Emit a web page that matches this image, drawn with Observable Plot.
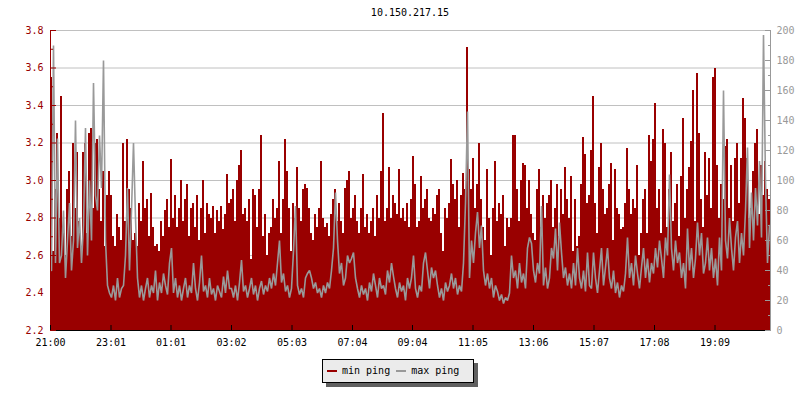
<!DOCTYPE html>
<html>
<head>
<meta charset="utf-8">
<script src="https://cdn.jsdelivr.net/npm/d3@7"></script>
<script src="https://cdn.jsdelivr.net/npm/@observablehq/plot@0.6"></script>
<style>
  body { margin: 0; background: #fff; }
  #wrap { position: relative; width: 800px; height: 400px; font-family: "DejaVu Sans Mono", monospace; font-size: 10px; color: #000; }
  #title { position: absolute; left: 0; top: 7px; width: 820px; text-align: center; line-height: 12px; }
  #chart { position: absolute; left: 0; top: 0; }
  #legend { position: absolute; left: 322px; top: 359px; width: 152px; height: 24px; box-sizing: border-box;
            border: 1px solid #000; background: #ebebeb; box-shadow: 4px 4px 0 #606060;
            display: flex; align-items: center; padding-left: 4px; }
  .sw { display: inline-block; width: 10px; height: 2px; margin-right: 5px; }
  .lab { margin-right: 6px; line-height: 12px; }
</style>
</head>
<body>
<div id="wrap">
  <div id="chart"></div>
  <div id="title"></div>
  <div id="legend"></div>
</div>
<script>
const title = "10.150.217.15";
const seriesNames = ["min ping", "max ping"];
const seriesColors = ["#990000", "#999999"];
const startTime = "21:00";
const spanMinutes = 1440;
const sampleMinutes = 4;
const timeLabels = ["21:00","23:01","01:01","03:02","05:03","07:04","09:04","11:05","13:06","15:07","17:08","19:09"];
const leftTicks = [2.2,2.4,2.6,2.8,3.0,3.2,3.4,3.6,3.8];
const rightTicks = [0,20,40,60,80,100,120,140,160,180,200];

// min ping (left axis), one value per 4 minutes
const minPing = [
3.55,2.62,2.95,3.25,2.8,3.45,2.75,2.6,2.95,3.05,2.7,3.2,2.85,3.15,2.78,2.65,3.15,3.2,2.72,3.25,3.28,2.85,3.2,3.22,2.95,2.78,3.05,2.65,2.92,3.05,
2.92,2.7,2.65,2.82,2.75,2.68,3.2,2.78,3.22,2.95,2.85,2.68,2.72,2.65,2.88,2.78,3.1,2.85,2.9,2.7,2.93,2.75,2.65,2.66,2.62,2.78,2.7,2.84,2.9,2.75,
3.11,2.8,2.92,2.75,2.85,3.0,2.78,2.9,2.98,2.7,2.85,2.88,2.75,2.92,2.68,2.85,3.0,2.72,2.88,2.82,2.8,2.86,2.72,2.84,2.78,2.86,2.74,2.82,3.03,2.88,
2.9,2.95,2.78,3.0,3.08,3.16,2.82,2.85,2.78,2.9,2.58,2.95,2.92,2.75,2.95,3.24,2.7,2.82,2.6,2.72,2.75,2.9,2.8,2.85,3.1,2.72,2.9,3.22,3.05,2.85,
2.62,2.88,2.8,3.07,2.85,2.78,2.95,2.98,2.96,2.85,2.72,2.68,2.82,2.75,2.85,3.1,2.8,2.75,2.77,2.7,2.82,2.9,2.95,2.78,2.88,2.78,2.72,2.96,3.0,3.05,
2.8,2.85,2.92,2.78,2.72,2.85,3.03,2.75,2.82,2.72,2.78,2.85,2.7,2.92,2.8,3.05,3.36,2.78,2.85,3.07,2.8,2.92,2.88,2.82,3.06,2.8,2.85,2.78,2.88,2.75,
2.9,3.13,2.98,2.75,2.78,3.02,2.85,2.9,2.95,2.8,2.78,2.85,2.82,2.92,2.95,2.72,2.62,2.85,2.8,2.88,3.11,2.98,2.9,3.0,2.75,2.92,3.04,2.95,3.71,3.06,
2.95,3.12,2.85,2.98,3.2,2.9,2.75,2.68,3.06,2.8,2.6,2.85,3.1,2.78,2.88,2.82,2.92,2.65,2.8,2.75,2.8,3.24,3.24,2.95,2.78,3.0,3.09,3.08,2.85,3.0,
2.82,2.72,2.68,2.95,3.06,2.75,2.92,2.8,2.88,2.92,3.0,2.75,2.85,2.98,2.7,2.95,2.82,3.07,2.9,2.8,3.02,2.62,2.9,2.65,2.7,2.98,3.23,3.14,2.88,2.92,
3.16,3.45,2.88,2.72,3.07,3.2,2.95,2.82,2.85,2.98,3.09,2.68,3.06,2.85,2.82,2.74,2.75,2.88,3.17,2.95,2.82,2.9,2.85,3.08,2.6,2.72,2.9,2.95,2.72,3.24,
3.1,3.22,3.41,2.85,2.95,2.72,3.27,3.2,2.75,2.95,3.15,2.78,2.88,2.98,2.7,3.02,3.33,2.8,2.95,3.07,3.21,3.48,2.78,3.57,3.25,2.9,2.75,3.15,2.92,3.12,2.85,3.55,3.6,3.08,2.8,2.98,
2.9,3.18,3.22,2.85,3.08,2.78,3.12,3.2,2.88,3.12,3.44,3.33,3.12,2.8,2.85,3.05,3.2,3.27,2.82,3.08,2.92,3.1,2.95,2.9
];

// max ping (right axis), one value per 4 minutes
const maxPing = [
40,190,45,128,45,50,80,35,60,85,40,60,140,55,75,45,70,135,50,100,60,165,90,80,130,95,180,60,30,25,
22,30,20,35,22,28,30,50,95,40,80,125,75,35,22,30,20,28,35,22,30,25,40,20,32,25,38,30,24,45,
55,25,35,22,30,20,28,35,22,30,25,45,28,20,32,50,26,30,22,35,24,28,20,30,26,22,36,25,40,28,
28,22,30,20,32,47,26,30,22,28,35,24,30,20,28,33,24,30,26,35,28,38,30,45,60,32,38,26,30,22,
28,53,83,30,24,28,22,35,38,40,35,28,32,25,28,22,30,25,32,28,40,55,92,60,38,45,30,35,50,45,
48,52,35,28,22,30,24,28,20,32,26,38,30,22,35,28,30,24,40,32,45,36,28,22,32,26,30,20,35,28,
35,50,28,22,30,26,45,52,40,28,42,35,40,30,22,28,20,32,26,30,38,28,35,24,30,26,45,85,146,35,
60,45,65,79,55,70,40,30,38,28,35,22,30,26,20,24,18,22,20,25,50,35,40,28,45,32,38,28,55,62,
58,40,32,45,38,83,30,42,28,35,55,48,68,40,72,52,35,42,30,38,28,45,30,55,35,28,40,26,52,30,
28,52,35,25,40,55,30,42,55,35,28,40,25,32,22,30,26,38,62,35,45,30,50,38,28,42,55,35,48,32,
45,38,55,42,60,48,35,62,50,104,55,40,60,45,52,35,45,28,68,40,55,35,48,72,50,65,38,45,62,40,55,35,48,30,62,40,
160,60,48,75,55,40,62,73,45,65,50,80,122,55,92,60,95,70,113,62,197,100,45,70
];

const red = seriesColors[0], gray = seriesColors[1];
const hm = s => { const [h, m] = s.split(":").map(Number); return h * 60 + m; };
const toMin = s => (hm(s) - hm(startTime) + 1440) % 1440;
const tickMinutes = timeLabels.map(toMin);
const labelByMin = new Map(tickMinutes.map((m, i) => [m, timeLabels[i]]));
const yLo = leftTicks[0], yHi = leftTicks[leftTicks.length - 1];
const r2l = d3.scaleLinear([rightTicks[0], rightTicks[rightTicks.length - 1]], [yLo, yHi]);
const leftMinor = leftTicks.slice(1).map((t, i) => (t + leftTicks[i]) / 2);
const rightMajorL = rightTicks.map(v => r2l(v));
const rightMinorL = rightTicks.slice(1).map((t, i) => r2l((t + rightTicks[i]) / 2));

const chart = Plot.plot({
  width: 800, height: 400,
  marginLeft: 50, marginRight: 30, marginTop: 30, marginBottom: 70,
  x: {domain: [0, spanMinutes], label: null},
  y: {domain: [yLo, yHi], label: null},
  style: {fontFamily: "DejaVu Sans Mono", fontSize: "10px", background: "transparent", color: "#000"},
  marks: [
    Plot.ruleY(leftTicks.slice(1), {stroke: "#c0c0c0"}),
    Plot.rect(minPing, {x1: (d, i) => i * sampleMinutes, x2: (d, i) => (i + 1) * sampleMinutes, y1: yLo, y2: d => d, fill: red, shapeRendering: "crispEdges"}),
    Plot.line(maxPing, {x: (d, i) => i * sampleMinutes + sampleMinutes / 2, y: d => r2l(d), stroke: gray, strokeWidth: 1.6, curve: "linear", strokeLinejoin: "miter", strokeMiterlimit: 2}),
    Plot.ruleY([yLo], {stroke: "#000"}),
    Plot.ruleX([0], {stroke: red}),
    Plot.ruleX([spanMinutes], {stroke: gray}),
    // left axis
    Plot.axisY({anchor: "left", ticks: leftTicks, tickSize: -6, text: null, color: red}),
    Plot.axisY({anchor: "left", ticks: leftMinor, tickSize: -3, text: null, color: red}),
    Plot.axisY({anchor: "left", ticks: leftTicks, tickSize: 0, tickPadding: 7, tickFormat: d3.format(".1f"), color: red}),
    // right axis
    Plot.axisY({anchor: "right", ticks: rightMajorL, tickSize: -6, text: null, color: gray}),
    Plot.axisY({anchor: "right", ticks: rightMinorL, tickSize: -3, text: null, color: gray}),
    Plot.axisY({anchor: "right", ticks: rightMajorL, tickSize: 0, tickPadding: 6, tickFormat: d => String(Math.round(r2l.invert(d))), color: gray}),
    // bottom axis
    Plot.axisX({ticks: tickMinutes, tickSize: -5, text: null, color: "#000"}),
    Plot.axisX({ticks: tickMinutes, tickSize: 0, tickPadding: 8, tickFormat: m => labelByMin.get(m), color: "#000"})
  ]
});
document.getElementById("chart").appendChild(chart);
document.getElementById("title").textContent = title;
const legend = document.getElementById("legend");
seriesNames.forEach((name, i) => {
  const sw = document.createElement("span");
  sw.className = "sw"; sw.style.background = seriesColors[i];
  const lab = document.createElement("span");
  lab.className = "lab"; lab.textContent = name;
  legend.appendChild(sw); legend.appendChild(lab);
});
</script>
</body>
</html>
